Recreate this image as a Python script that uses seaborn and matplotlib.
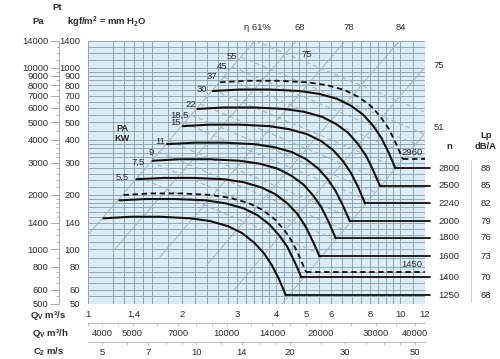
import matplotlib
matplotlib.use('Agg')
import matplotlib.pyplot as plt
import seaborn as sns
from matplotlib.ticker import FixedLocator, NullFormatter
from matplotlib.transforms import blended_transform_factory

# ---------------- data ----------------
# fan curves: flow Q [m3/s], total pressure Pt [kgf/m2]
q_2960 = [2.65, 3.24, 4.04, 5.03, 5.83, 6.65, 7.37, 8.06, 8.67, 9.20, 9.68, 9.97, 10.19]
p_2960 = [830, 846, 846, 830, 800, 751, 687, 614, 533, 458, 383, 342, 313]
q_2800 = [2.51, 3.06, 3.82, 4.76, 5.51, 6.29, 6.97, 7.62, 8.20, 8.70, 9.16, 9.43, 9.64]
p_2800 = [743, 757, 757, 743, 716, 672, 615, 549, 477, 410, 343, 306, 280]
q_2500 = [2.24, 2.73, 3.41, 4.25, 4.92, 5.62, 6.22, 6.80, 7.32, 7.77, 8.18, 8.42, 8.61]
p_2500 = [592, 603, 603, 592, 571, 536, 490, 438, 380, 327, 273, 244, 223]
q_2240 = [2.01, 2.45, 3.06, 3.81, 4.41, 5.03, 5.58, 6.10, 6.56, 6.96, 7.33, 7.54, 7.71]
p_2240 = [476, 485, 485, 476, 458, 430, 394, 351, 305, 262, 220, 196, 179]
q_2000 = [1.79, 2.19, 2.73, 3.40, 3.94, 4.49, 4.98, 5.44, 5.86, 6.21, 6.54, 6.74, 6.89]
p_2000 = [379, 386, 386, 379, 365, 343, 314, 280, 243, 209, 175, 156, 143]
q_1800 = [1.61, 1.97, 2.46, 3.06, 3.54, 4.04, 4.48, 4.90, 5.27, 5.59, 5.89, 6.06, 6.20]
p_1800 = [307, 313, 313, 307, 296, 278, 254, 227, 197, 170, 142, 127, 116]
q_1600 = [1.43, 1.75, 2.18, 2.72, 3.15, 3.59, 3.98, 4.35, 4.69, 4.97, 5.23, 5.39, 5.51]
p_1600 = [243, 247, 247, 243, 234, 219, 201, 179, 156, 134, 112, 100, 91.4]
q_1450 = [1.30, 1.59, 1.98, 2.47, 2.85, 3.26, 3.61, 3.95, 4.25, 4.51, 4.74, 4.88, 4.99]
p_1450 = [199, 203, 203, 199, 192, 180, 165, 147, 128, 110, 92.0, 82.1, 75.1]
q_1400 = [1.26, 1.53, 1.91, 2.38, 2.76, 3.15, 3.49, 3.81, 4.10, 4.35, 4.58, 4.72, 4.82]
p_1400 = [186, 189, 189, 186, 179, 168, 154, 137, 119, 103, 85.8, 76.5, 70.0]
q_1250 = [1.12, 1.37, 1.71, 2.13, 2.46, 2.81, 3.11, 3.40, 3.66, 3.88, 4.09, 4.21, 4.30]
p_1250 = [148, 151, 151, 148, 143, 134, 123, 109, 95.1, 81.7, 68.4, 61.0, 55.8]

speeds = [2960, 2800, 2500, 2240, 2000, 1800, 1600, 1450, 1400, 1250]
curve_q = [q_2960, q_2800, q_2500, q_2240, q_2000, q_1800, q_1600, q_1450, q_1400, q_1250]
curve_p = [p_2960, p_2800, p_2500, p_2240, p_2000, p_1800, p_1600, p_1450, p_1400, p_1250]
dashed_speeds = [2960, 1450]
noise_speeds = [2800, 2500, 2240, 2000, 1800, 1600, 1400, 1250]
noise_lp = [88, 85, 82, 79, 76, 73, 70, 68]

# absorbed power lines (kW): label position, start and end of each dashed line
power_labels = ["55", "45", "37", "30", "22", "18,5", "15", "11", "9", "7,5", "5,5"]
power_lab_q = [2.88, 2.68, 2.49, 2.31, 2.13, 1.97, 1.90, 1.70, 1.59, 1.445, 1.29]
power_lab_p = [1144, 1008, 888, 753, 630, 548, 496, 394, 343, 302, 250]
power_q0 = [3.09, 2.90, 2.72, 2.51, 2.29, 2.14, 2.03, 1.815, 1.69, 1.59, 1.445, 3.44]
power_p0 = [1144, 1008, 888, 753, 630, 548, 496, 394, 343, 302, 250, 1400]
power_q1 = [11.93, 11.17, 10.50, 9.69, 8.88, 8.30, 7.90, 7.06, 6.60, 6.20, 5.65, 11.93]
power_p1 = [430, 380, 334, 283, 237, 206, 186, 148, 128, 113, 93, 570]

# efficiency lines (start / end)
eta_q0 = [1.0, 1.211, 1.698, 2.40, 2.93, 4.17]
eta_p0 = [120, 99, 90.7, 82, 59.7, 50]
eta_q1 = [3.42, 4.65, 6.66, 9.93, 11.93, 11.93]
eta_p1 = [1400, 1400, 1400, 1400, 995, 430]
eta_top_labels = ["\u03b7 61%", "68", "78", "84"]
eta_top_q = [3.50, 4.76, 6.86, 10.08]
eta_right_labels = ["75", "51"]
eta_right_p = [1020, 470]

# axes ticks
q_ticks = [1, 1.4, 2, 3, 4, 5, 6, 8, 10, 12]
q_tick_labels = ["1", "1,4", "2", "3", "4", "5", "6", "8", "10", "12"]
q_grid = [1.2, 1.3, 1.5, 1.6, 1.8, 2.2, 2.4, 2.6, 2.8, 3.2, 3.4, 3.6, 3.8,
          4.25, 4.5, 4.75, 5.5, 6.5, 7, 7.5, 8.5, 9, 9.5, 11]
kgf_ticks = [50, 60, 80, 100, 140, 200, 300, 400, 500, 600, 700, 800, 900, 1000, 1400]
kgf_grid = [55, 65, 70, 75, 90, 110, 120, 130, 150, 160, 170, 180, 190, 220, 240,
            260, 280, 320, 340, 360, 380, 450, 550, 650, 750, 850, 950, 1100, 1200, 1300]
pa_ticks = [500, 600, 800, 1000, 1400, 2000, 3000, 4000, 5000, 6000, 7000, 8000,
            9000, 10000, 14000]
m3h_ticks = [4000, 5000, 7000, 10000, 14000, 20000, 30000, 40000]
m3h_minor = [3600, 4500, 6000, 8000, 9000, 12000, 16000, 18000, 25000, 35000]
c2_ticks = [5, 7, 10, 14, 20, 30, 50]
c2_minor = [6, 8, 9, 12, 16, 18, 25, 35, 40, 45]

# ---------------- style ----------------
sns.set_style("white")
plt.rcParams['font.family'] = ['Liberation Sans', 'DejaVu Sans']
plt.rcParams['mathtext.fontset'] = 'custom'
plt.rcParams['mathtext.rm'] = 'Liberation Sans'
plt.rcParams['mathtext.bf'] = 'Liberation Sans:bold'
TXT = '#2b2b2b'
FS = 6.8
GRID = '#8da2b0'
LIGHT = '#a7b4bd'

fig = plt.figure(figsize=(5.0, 3.59), dpi=100)
fig.patch.set_facecolor('white')
ax = fig.add_axes([88/500, 1-304/359, 337/500, 263/359])
ax.set_facecolor('#dcedf8')
ax.set_xscale('log')
ax.set_yscale('log')
ax.set_xlim(1, 12)
ax.set_ylim(50, 1400)
for s in ax.spines.values():
    s.set_visible(False)
ax.set_axisbelow(True)

# ticks / grid
ax.set_xticks(q_ticks, q_tick_labels)
ax.xaxis.set_minor_locator(FixedLocator(q_grid))
ax.xaxis.set_minor_formatter(NullFormatter())
ax.set_yticks(kgf_ticks, [str(v) for v in kgf_ticks])
ax.yaxis.set_minor_locator(FixedLocator(kgf_grid))
ax.yaxis.set_minor_formatter(NullFormatter())
ax.grid(True, which='both', color=GRID, lw=0.65)
ax.tick_params(axis='x', which='both', length=0, pad=4.2, labelsize=FS, labelcolor=TXT)
ax.tick_params(axis='y', which='major', length=4.2, width=0.6, color='#999999',
               direction='out', pad=1.3, labelsize=FS, labelcolor=TXT)
ax.tick_params(axis='y', which='minor', length=0)

# Pa axis
secy = ax.secondary_yaxis(-29/337, functions=(lambda v: v*10, lambda v: v/10))
secy.set_yticks(pa_ticks, [str(v) for v in pa_ticks])
secy.yaxis.set_minor_locator(FixedLocator([v*10 for v in kgf_grid]))
secy.yaxis.set_minor_formatter(NullFormatter())
secy.spines['left'].set_color('#9a9a9a')
secy.spines['left'].set_linewidth(0.6)
secy.tick_params(which='major', length=6.3, width=0.6, color='#9a9a9a', pad=1.2,
                 labelsize=FS, labelcolor=TXT)
secy.tick_params(which='minor', length=2.5, width=0.5, color='#9a9a9a')

# m3/h and C2 axes
for loc, fw, ticks, minor in [(-19/263, (lambda q: q*3600, lambda h: h/3600), m3h_ticks, m3h_minor),
                              (-38/263, (lambda q: q*4.5, lambda c: c/4.5), c2_ticks, c2_minor)]:
    sx = ax.secondary_xaxis(loc, functions=fw)
    sx.set_xticks(ticks, [str(v) for v in ticks])
    sx.xaxis.set_minor_locator(FixedLocator(minor))
    sx.xaxis.set_minor_formatter(NullFormatter())
    sx.spines['bottom'].set_color('#b0b0b0')
    sx.spines['bottom'].set_linewidth(0.6)
    sx.tick_params(which='major', length=2.5, width=0.5, color='#b0b0b0', pad=1.5,
                   labelsize=FS, labelcolor=TXT)
    sx.tick_params(which='minor', length=1.8, width=0.5, color='#b0b0b0')


def draw(q, p, color, lw, dash=None, clip=True, z=3):
    sns.lineplot(x=q, y=p, ax=ax, color=color, linewidth=lw, sort=False,
                 estimator=None, legend=False)
    ln = ax.lines[-1]
    if dash is not None:
        ln.set_dashes(dash)
    ln.set_clip_on(clip)
    ln.set_zorder(z)
    return ln


# efficiency lines
for q0, p0, q1, p1 in zip(eta_q0, eta_p0, eta_q1, eta_p1):
    draw([q0, q1], [p0, p1], LIGHT, 0.7, z=2)

# power lines
for q0, p0, q1, p1 in zip(power_q0, power_p0, power_q1, power_p1):
    draw([q0, q1], [p0, p1], LIGHT, 0.8, dash=(4, 3), z=2)

blend = blended_transform_factory(ax.transAxes, ax.transData)

# fan curves and leaders
for n, qs, ps in zip(speeds, curve_q, curve_p):
    if n in dashed_speeds:
        draw(qs, ps, '#111111', 1.3, dash=(3, 2), z=4)
        draw([qs[-1], 12.0], [ps[-1], ps[-1]], '#111111', 1.3, dash=(3, 2), z=4)
        ax.text(10.9, ps[-1]*1.035, str(n), fontsize=FS, color=TXT, ha='center',
                va='bottom', zorder=5)
    else:
        draw(qs, ps, '#111111', 1.5, z=4)
        draw([qs[-1], 12.45], [ps[-1], ps[-1]], '#111111', 1.3, clip=False, z=4)

for n, lp in zip(noise_speeds, noise_lp):
    pe = curve_p[speeds.index(n)][-1]
    ax.text(1.071, pe, str(n), transform=blend, fontsize=FS, color=TXT,
            ha='center', va='center')
    ax.text(1.18, pe, str(lp), transform=blend, fontsize=FS, color=TXT,
            ha='center', va='center')

# power labels
for lab, q, p in zip(power_labels, power_lab_q, power_lab_p):
    ax.text(q, p, lab, fontsize=FS, color=TXT, ha='center', va='center', zorder=5)
ax.text(5.0, 1187, "75", fontsize=FS, color=TXT, ha='center', va='center', zorder=5)

# efficiency labels
topt = blended_transform_factory(ax.transData, ax.transAxes)
for lab, q in zip(eta_top_labels, eta_top_q):
    ax.text(q, 1.053, lab, transform=topt, fontsize=FS, color=TXT, ha='center', va='center')
for lab, p in zip(eta_right_labels, eta_right_p):
    ax.text(1.04, p, lab, transform=blend, fontsize=FS, color=TXT, ha='center', va='center')

# separator between n and Lp
fig.add_artist(plt.Line2D([471/500, 471/500], [1-160/359, 1-302/359], color='#c8c8c8', lw=0.6))


def ftext(x, y, s, **kw):
    kw.setdefault('fontsize', FS)
    kw.setdefault('color', TXT)
    fig.text(x/500, 1-y/359, s, **kw)


ftext(57, 8, "Pt", fontweight='bold', ha='center', va='center')
ftext(38, 22, "Pa", fontweight='bold', ha='center', va='center')
ftext(67, 22, r"kgf/m$^\mathbf{2}$ = mm H$_\mathbf{2}$O", fontweight='bold', ha='left', va='center')
ftext(122, 128.5, "PA", fontweight='bold', ha='center', va='center', fontsize=6.6)
ftext(122, 139, "KW", fontweight='bold', ha='center', va='center', fontsize=6.6)
ftext(66, 316, r"Q$_\mathbf{V}$ m³/s", fontweight='bold', ha='right', va='center')
ftext(68, 333, r"Q$_\mathbf{V}$ m³/h", fontweight='bold', ha='right', va='center')
ftext(64, 352, r"C$_\mathbf{2}$ m/s", fontweight='bold', ha='right', va='center')
ftext(449, 146, "n", fontweight='bold', ha='center', va='center')
ftext(486, 135, "Lp", fontweight='bold', ha='center', va='center')
ftext(486, 146, "dB/A", fontweight='bold', ha='center', va='center')

fig.savefig('out.png', dpi=100, facecolor='white')
